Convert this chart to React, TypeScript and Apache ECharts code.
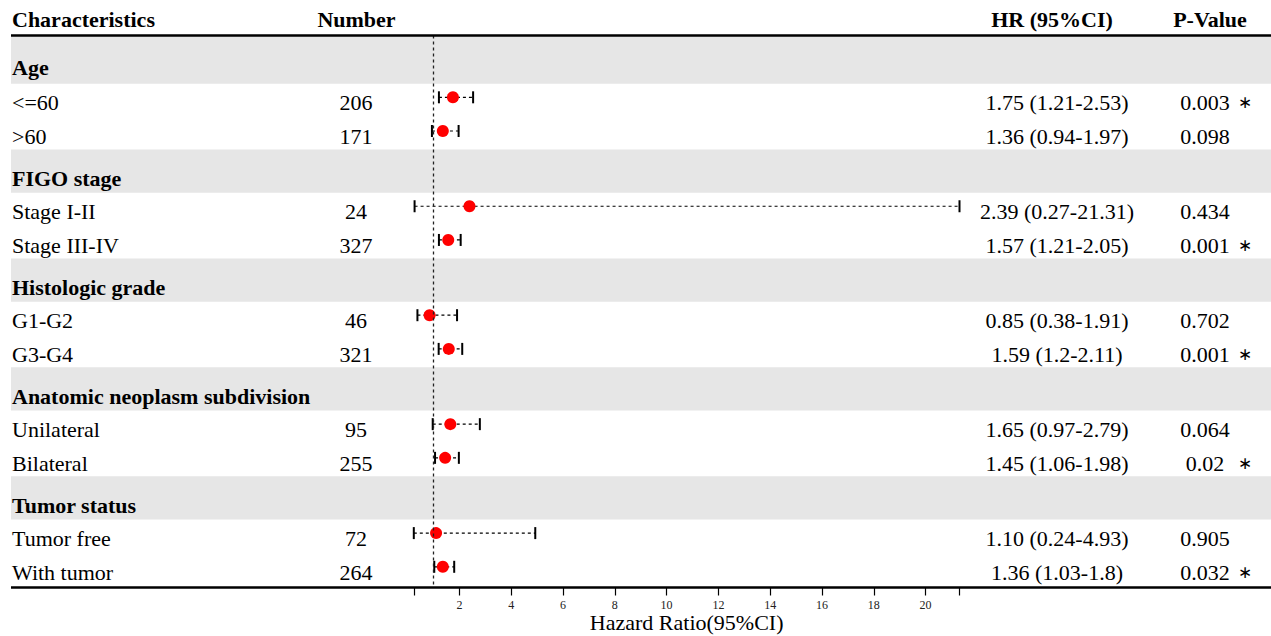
import React, { useEffect, useRef } from "react";
import * as echarts from "echarts";

// ---------------- data ----------------
const GROUPS = ["Age", "FIGO stage", "Histologic grade", "Anatomic neoplasm subdivision", "Tumor status"];
const GROUP_OF = [0, 0, 1, 1, 2, 2, 3, 3, 4, 4];
const SUBGROUPS = ["<=60", ">60", "Stage I-II", "Stage III-IV", "G1-G2", "G3-G4", "Unilateral", "Bilateral", "Tumor free", "With tumor"];
const NUMBERS = [206, 171, 24, 327, 46, 321, 95, 255, 72, 264];
const HR = [1.75, 1.36, 2.39, 1.57, 0.85, 1.59, 1.65, 1.45, 1.1, 1.36];
const LOWER = [1.21, 0.94, 0.27, 1.21, 0.38, 1.2, 0.97, 1.06, 0.24, 1.03];
const UPPER = [2.53, 1.97, 21.31, 2.05, 1.91, 2.11, 2.79, 1.98, 4.93, 1.8];
const HR_LABELS = [
  "1.75 (1.21-2.53)", "1.36 (0.94-1.97)", "2.39 (0.27-21.31)", "1.57 (1.21-2.05)", "0.85 (0.38-1.91)",
  "1.59 (1.2-2.11)", "1.65 (0.97-2.79)", "1.45 (1.06-1.98)", "1.10 (0.24-4.93)", "1.36 (1.03-1.8)",
];
const P_VALUES = ["0.003", "0.098", "0.434", "0.001", "0.702", "0.001", "0.064", "0.02", "0.905", "0.032"];
const HEADERS = ["Characteristics", "Number", "HR (95%CI)", "P-Value"];
const X_TICK_LABELS = [2, 4, 6, 8, 10, 12, 14, 16, 18, 20];
const X_MIN = 0.24;
const X_MAX = 21.31;
const REF_VALUE = 1;

// ---------------- layout ----------------
const W = 1271;
const H = 636;
const TOP = 35.5;
const PAD_TOP = 3.4;
const PAD_BOTTOM = 3.85;
const HEADER_H = 41.55;
const ROW_H = 33.7;
const BAND_SHIFT_TOP = 1.6;
const BAND_SHIFT_BOTTOM = 3.3;
const FONT = "'Liberation Serif', 'Times New Roman', serif";
const COL_CHAR = 12;
const COL_NUM = 356;
const COL_HR = 1057;
const COL_P = 1205;
const COL_STAR = 1245;
const HEAD_X = [12, 356.5, 1052, 1210];
const HEAD_Y = 19 - TOP;

const bandRanges: number[][] = [];
const headerTextY: number[] = [];
const rowY: number[] = [];
let cur = PAD_TOP;
GROUPS.forEach((_, gi) => {
  const b0 = gi === 0 ? 0 : cur + BAND_SHIFT_TOP;
  const b1 = cur + HEADER_H + BAND_SHIFT_BOTTOM;
  bandRanges.push([b0, b1]);
  headerTextY.push((b0 + b1) / 2 + 7.5);
  cur += HEADER_H;
  SUBGROUPS.forEach((__, i) => {
    if (GROUP_OF[i] === gi) {
      rowY[i] = cur + ROW_H / 2;
      cur += ROW_H;
    }
  });
});
const TOTAL = cur + PAD_BOTTOM;
const BOTTOM = H - TOP - TOTAL;

function buildOption() {
  const textItems: any[] = [];
  const pushText = (x: number, y: number, text: string, align: string, bold = false, size = 22) => {
    textItems.push({
      name: text,
      value: [x, y],
      label: { align, fontWeight: bold ? "bold" : "normal", fontSize: size, color: "#000" },
    });
  };
  HEADERS.forEach((h, i) => pushText(HEAD_X[i], HEAD_Y, h, i === 0 ? "left" : "center", true));
  GROUPS.forEach((g, gi) => pushText(COL_CHAR, headerTextY[gi], g, "left", true));
  SUBGROUPS.forEach((s, i) => {
    const ty = rowY[i] + 5.5;
    pushText(COL_CHAR, ty, s, "left");
    pushText(COL_NUM, ty, String(NUMBERS[i]), "center");
    pushText(COL_HR, ty, HR_LABELS[i], "center");
    pushText(COL_P, ty, P_VALUES[i], "center");
    if (parseFloat(P_VALUES[i]) < 0.05) pushText(COL_STAR, ty, "\u2217", "center", false, 17);
  });

  return {
    animation: false,
    backgroundColor: "#fff",
    textStyle: { fontFamily: FONT },
    grid: [
      { left: 413.8, right: W - 959.5, top: TOP, bottom: BOTTOM, containLabel: false, outerBoundsMode: "none" },
      { left: 0, right: 0, top: TOP, bottom: BOTTOM, containLabel: false, outerBoundsMode: "none" },
    ],
    xAxis: [
      {
        gridIndex: 0,
        type: "value",
        position: "bottom",
        min: X_MIN,
        max: X_MAX,
        axisLine: { show: true, onZero: false, lineStyle: { color: "rgba(0,0,0,0)", width: 0 } },
        splitLine: { show: false },
        axisTick: {
          show: true,
          inside: false,
          customValues: [X_MIN, ...X_TICK_LABELS, X_MAX],
          length: 8,
          lineStyle: { color: "#000", width: 1.2 },
        },
        axisLabel: {
          customValues: X_TICK_LABELS,
          fontSize: 12,
          fontFamily: FONT,
          color: "#222",
          margin: 11,
        },
        name: "Hazard Ratio(95%CI)",
        nameLocation: "middle",
        nameGap: 24,
        nameMoveOverlap: false,
        nameTextStyle: { fontSize: 22, fontFamily: FONT, color: "#000" },
      },
      { gridIndex: 1, type: "value", min: 0, max: W, show: false },
    ],
    yAxis: [
      { gridIndex: 0, type: "value", min: 0, max: TOTAL, inverse: true, show: false },
      { gridIndex: 1, type: "value", min: 0, max: TOTAL, inverse: true, show: false },
    ],
    series: [
      {
        type: "custom",
        name: "bands",
        xAxisIndex: 1,
        yAxisIndex: 1,
        silent: true,
        z: 0,
        data: bandRanges,
        renderItem: (params: any, api: any) => {
          const p0 = api.coord([11, api.value(0)]);
          const p1 = api.coord([W, api.value(1)]);
          return {
            type: "rect",
            shape: { x: p0[0], y: p0[1], width: p1[0] - p0[0], height: p1[1] - p0[1] },
            style: { fill: "#E6E6E6" },
          };
        },
      },
      {
        type: "custom",
        name: "rules",
        xAxisIndex: 1,
        yAxisIndex: 1,
        silent: true,
        z: 6,
        data: [[0], [TOTAL]],
        renderItem: (params: any, api: any) => {
          const p0 = api.coord([11, api.value(0)]);
          const p1 = api.coord([W, api.value(0)]);
          return {
            type: "line",
            shape: { x1: p0[0], y1: p0[1], x2: p1[0], y2: p1[1] },
            style: { stroke: "#000", lineWidth: 2.3 },
          };
        },
      },
      {
        type: "scatter",
        name: "table",
        xAxisIndex: 1,
        yAxisIndex: 1,
        silent: true,
        clip: false,
        z: 5,
        symbolSize: 1,
        itemStyle: { color: "rgba(0,0,0,0)", opacity: 1 },
        label: {
          show: true,
          position: "inside",
          formatter: (p: any) => p.name,
          color: "#000",
          fontFamily: FONT,
          fontSize: 22,
          verticalAlign: "middle",
        },
        emphasis: { disabled: true },
        data: textItems,
      },
      {
        type: "custom",
        name: "ci",
        xAxisIndex: 0,
        yAxisIndex: 0,
        silent: true,
        clip: false,
        z: 3,
        data: SUBGROUPS.map((_, i) => [LOWER[i], UPPER[i], rowY[i]]),
        renderItem: (params: any, api: any) => {
          const y = api.value(2);
          const a = api.coord([api.value(0), y]);
          const b = api.coord([api.value(1), y]);
          const cap = 6;
          return {
            type: "group",
            children: [
              {
                type: "line",
                shape: { x1: a[0], y1: a[1], x2: b[0], y2: b[1] },
                style: { stroke: "#000", lineWidth: 1.2, lineDash: [3, 3] },
              },
              {
                type: "line",
                shape: { x1: a[0], y1: a[1] - cap, x2: a[0], y2: a[1] + cap },
                style: { stroke: "#000", lineWidth: 2 },
              },
              {
                type: "line",
                shape: { x1: b[0], y1: b[1] - cap, x2: b[0], y2: b[1] + cap },
                style: { stroke: "#000", lineWidth: 2 },
              },
            ],
          };
        },
      },
      {
        type: "scatter",
        name: "hr",
        xAxisIndex: 0,
        yAxisIndex: 0,
        silent: true,
        clip: false,
        z: 4,
        symbol: "circle",
        symbolSize: 12,
        itemStyle: { color: "#FF0000", opacity: 1 },
        data: SUBGROUPS.map((_, i) => [HR[i], rowY[i]]),
        markLine: {
          silent: true,
          symbol: ["none", "none"],
          label: { show: false },
          lineStyle: { color: "#222", width: 1.3, type: [3, 3] },
          data: [{ xAxis: REF_VALUE }],
        },
      },
    ],
  };
}

export default function App() {
  const ref = useRef<HTMLDivElement>(null);
  useEffect(() => {
    if (!ref.current) return;
    const chart = echarts.init(ref.current, null, { renderer: "svg" });
    chart.setOption(buildOption() as any);
    return () => chart.dispose();
  }, []);
  return (
    <div
      ref={ref}
      style={{ position: "fixed", left: 0, top: 0, width: W, height: H, background: "#fff" }}
    />
  );
}
